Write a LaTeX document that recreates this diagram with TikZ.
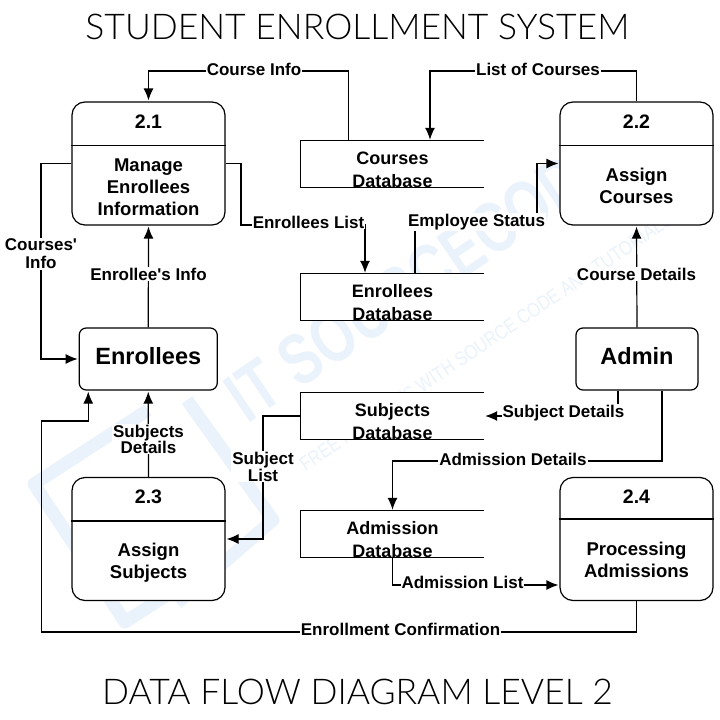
\documentclass[tikz,border=0pt]{standalone}
\usepackage{fontspec}
\setmainfont{Liberation Sans}[Ligatures=TeXOff]
\newfontfamily\titlefont{Lato Light}
\usetikzlibrary{
  arrows.meta,
  positioning,
  }
\definecolor{markblue}{HTML}{EAF2FB}
\tikzset{
  procbox/.style={draw, fill=white, rounded corners=13pt, line width=1.2pt, minimum width=153pt, minimum height=123pt, inner sep=0pt},
  extbox/.style={draw, fill=white, rounded corners=7pt, line width=1.2pt, minimum height=62pt, inner sep=0pt},
  exttext/.style={inner sep=0pt, yshift=3pt, font=\fontsize{23.5}{26}\bfseries\selectfont},
  store/.style={fill=white, minimum width=183pt, minimum height=46pt, inner sep=0pt},
  storetext/.style={align=center, inner sep=0pt, font=\fontsize{18}{23}\bfseries\selectfont},
  numtext/.style={inner sep=0pt, font=\fontsize{19.5}{22}\bfseries\selectfont},
  proctext/.style={align=center, inner sep=0pt, font=\fontsize{18.5}{22}\bfseries\selectfont},
  flowlabel/.style={fill=white, align=center, inner sep=1pt, font=\fontsize{17}{17}\bfseries\selectfont},
  flow/.style={line width=1.2pt, -{Latex[length=12pt,width=10pt]}, shorten >=1pt},
  titletext/.style={font=\titlefont\fontsize{35.5}{40}\selectfont},
  }
\begin{document}
\begin{tikzpicture}[x=1pt, y=-1pt]
    \useasboundingbox (0,0) rectangle (720,720);

    \node[rotate=34, xscale=0.75, text=markblue, font=\fontsize{72}{72}\bfseries\selectfont] (markname) at (420,278) {IT SOURCECODE};
    \node[rotate=34, xscale=0.82, text=markblue, font=\fontsize{20}{20}\selectfont] (marktag) at (486,342) {FREE PROJECTS WITH SOURCE CODE AND TUTORIALS};
    \draw[markblue, line width=13pt, line join=round] (148,410) -- (34,484) -- (125,622) -- (190,580);
    \draw[markblue, line width=13pt, line join=round] (187,400) -- (273,520) -- (177,603);

    \node[titletext] (title) at (357.5,27) {STUDENT ENROLLMENT SYSTEM};
    \node[titletext] (subtitle) at (357.5,692) {DATA FLOW DIAGRAM LEVEL 2};

    \node[procbox] (p21) at (148.5,163.5) {};
    \node[procbox] (p22) at (636.5,163.5) {};
    \node[procbox] (p23) at (148.5,539) {};
    \node[procbox] (p24) at (636.5,539) {};
    \draw[line width=1.2pt] ([yshift=-44pt]p21.north west) -- ([yshift=-44pt]p21.north east);
    \draw[line width=1.2pt] ([yshift=-44pt]p22.north west) -- ([yshift=-44pt]p22.north east);
    \draw[line width=1.2pt] ([yshift=-44pt]p23.north west) -- ([yshift=-44pt]p23.north east);
    \draw[line width=1.2pt] ([yshift=-42pt]p24.north west) -- ([yshift=-42pt]p24.north east);

    \node[numtext] (n21) at (148.5,122) {2.1};
    \node[numtext] (n22) at (636.5,122) {2.2};
    \node[numtext] (n23) at (148.5,497) {2.3};
    \node[numtext] (n24) at (636.5,497) {2.4};
    \node[proctext] (t21) at (148.5,187) {Manage\\Enrollees\\Information};
    \node[proctext] (t22) at (636.5,186) {Assign\\Courses};
    \node[proctext] (t23) at (148.5,562.5) {Assign\\Subjects};
    \node[proctext] (t24) at (636.5,560) {Processing\\Admissions};

    \node[extbox, minimum width=138pt, label={[exttext]center:Enrollees}] (enrollees) at (148.25,359) {};
    \node[extbox, minimum width=122pt, label={[exttext]center:Admin}] (admin) at (637,359) {};

    \node[store, label={[storetext, yshift=-5.5pt]center:Courses\\Database}] (courses) at (392.5,164) {};
    \node[store, label={[storetext, yshift=-5.5pt]center:Enrollees\\Database}] (enrolleesdb) at (392.5,297) {};
    \node[store, label={[storetext, yshift=-5.5pt]center:Subjects\\Database}] (subjects) at (392.5,416) {};
    \node[store, label={[storetext, yshift=-5.5pt]center:Admission\\Database}] (admission) at (392.5,534) {};
    \draw[line width=1.2pt] (courses.north east) -- (courses.north west) -- (courses.south west) -- (courses.south east);
    \draw[line width=1.2pt] (enrolleesdb.north east) -- (enrolleesdb.north west) -- (enrolleesdb.south west) -- (enrolleesdb.south east);
    \draw[line width=1.2pt] (subjects.north east) -- (subjects.north west) -- (subjects.south west) -- (subjects.south east);
    \draw[line width=1.2pt] (admission.north east) -- (admission.north west) -- (admission.south west) -- (admission.south east);

    \draw[flow] ([xshift=-44pt]courses.north) |- (148.5,71) -- (p21.north);
    \draw[flow] (p22.north) |- (430,71) -- ([xshift=37.5pt]courses.north);
    \draw[flow] (p21.east) -- (241,163.5) |- (365,225) -- ([xshift=-27.5pt]enrolleesdb.north);
    \draw[flow] ([xshift=22.5pt]enrolleesdb.north) |- (537,225) |- (p22.west);
    \draw[flow] (admin.north) -- (p22.south);
    \draw[flow] (enrollees.north) -- (p21.south);
    \draw[flow] (p21.west) -| (41,359) -- (enrollees.west);
    \draw[flow] (p23.north) -- (enrollees.south);
    \draw[flow] (p24.south) |- (41.5,632) |- (88.25,421) -- ([xshift=-60pt]enrollees.south);
    \draw[flow] (subjects.west) -| (263,539) -- (p23.east);
    \draw[flow] ([xshift=-19pt]admin.south) |- (subjects.east);
    \draw[flow] ([xshift=25pt]admin.south) |- (392.5,461) -- (admission.north);
    \draw[flow] (admission.south) |- (p24.west |- 0,585);

    \node[flowlabel] (lcourseinfo) at (254,69) {Course Info};
    \node[flowlabel] (lcourselist) at (538,69) {List of Courses};
    \node[flowlabel] (lenrolist) at (308.5,222) {Enrollees List};
    \node[flowlabel] (lempstatus) at (476.5,222) {Employee Status};
    \node[flowlabel] (lcoursedet) at (636.5,274) {Course Details};
    \node[flowlabel] (lenroinfo) at (148.5,274) {Enrollee's Info};
    \node[flowlabel, font=\fontsize{17}{18}\bfseries\selectfont] (lcoursesinfo) at (41,254) {Courses'\\Info};
    \node[flowlabel, font=\fontsize{17}{16}\bfseries\selectfont] (lsubjdet) at (148.5,439) {Subjects\\Details};
    \node[flowlabel] (lsubjlist) at (263,466.5) {Subject\\List};
    \node[flowlabel] (lsubjdetails) at (563.5,413) {Subject Details};
    \node[flowlabel] (ladmdet) at (513,459) {Admission Details};
    \node[flowlabel] (ladmlist) at (462.5,582) {Admission List};
    \node[flowlabel] (lconfirm) at (400.5,629) {Enrollment Confirmation};
\end{tikzpicture}
\end{document}
